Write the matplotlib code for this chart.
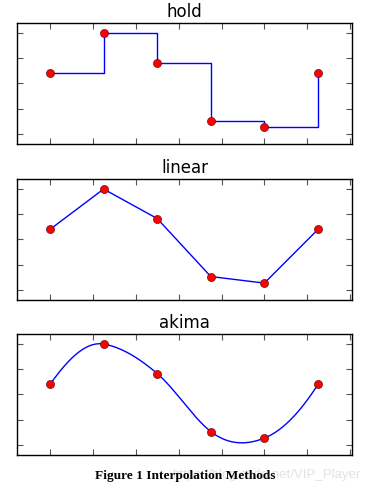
import numpy as np
import matplotlib
matplotlib.use('Agg')
import matplotlib.pyplot as plt

# sample points
x = np.array([1, 2, 3, 4, 5, 6], dtype=float)
y = np.array([2.4, 4.0, 2.83, 0.53, 0.27, 2.4])
titles = ['hold', 'linear', 'akima']
caption = 'Figure 1 Interpolation Methods'
watermark = 'https://blog.csdn.net/VIP_Player'


def akima(xp, yp, xi):
    m = np.diff(yp) / np.diff(xp)
    mm = 2 * m[0] - m[1]
    mmm = 2 * mm - m[0]
    mp = 2 * m[-1] - m[-2]
    mpp = 2 * mp - m[-1]
    m1 = np.concatenate([[mmm, mm], m, [mp, mpp]])
    dm = np.abs(np.diff(m1))
    f1 = dm[2:]
    f2 = dm[:-2]
    f12 = f1 + f2
    t = 0.5 * (m1[3:] + m1[:-3])
    ind = f12 > 1e-9 * f12.max()
    t[ind] = (f1[ind] * m1[1:-2][ind] + f2[ind] * m1[2:-1][ind]) / f12[ind]

    k = np.clip(np.searchsorted(xp, xi) - 1, 0, len(xp) - 2)
    h = xp[k + 1] - xp[k]
    s = (xi - xp[k]) / h
    h00 = 2 * s**3 - 3 * s**2 + 1
    h10 = s**3 - 2 * s**2 + s
    h01 = -2 * s**3 + 3 * s**2
    h11 = s**3 - s**2
    return h00 * yp[k] + h10 * h * t[k] + h01 * yp[k + 1] + h11 * h * t[k + 1]


fig = plt.figure(figsize=(3.73, 4.93), dpi=100)
fig.patch.set_facecolor('white')

bottoms = [0.708, 0.3915, 0.0771]
left, width, height = 0.0456, 0.898, 0.2455

xf = np.linspace(x[0], x[-1], 300)

for i, name in enumerate(titles):
    ax = fig.add_axes([left, bottoms[i], width, height])
    if name == 'hold':
        ax.plot(x, y, color='b', lw=1, drawstyle='steps-post')
    elif name == 'linear':
        ax.plot(x, y, color='b', lw=1)
    else:
        ax.plot(xf, akima(x, y, xf), color='b', lw=1)
    ax.plot(x, y, 'o', color='red', mec='#661111', mew=0.5, ms=5.8)
    ax.set_title(name, fontsize=12, pad=4)
    ax.set_xlim(0.384, 6.634)
    ax.set_ylim(-0.4, 4.4)
    ax.set_xticks(1 + 0.8 * np.arange(8))
    ax.set_yticks(np.arange(5))
    ax.tick_params(direction='in', length=4, width=0.8, color='#555555',
                   top=True, right=True, labelbottom=False, labelleft=False)
    for sp in ax.spines.values():
        sp.set_linewidth(1.0)
        sp.set_color('black')

# faint blog watermark, drawn behind the caption as in the source image
fig.text(0.965, 0.036, watermark, ha='right', va='center', fontsize=9.5,
         family='Liberation Sans', color='#e2e2e2', zorder=0)
fig.text(0.497, 0.035, caption, ha='center', va='center', fontsize=9.6,
         family='Liberation Serif', fontweight='bold', color='black', zorder=5)

fig.savefig('out.png', dpi=100)
